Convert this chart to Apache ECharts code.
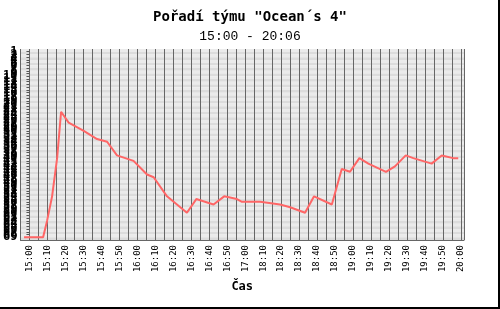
<!DOCTYPE html>
<html>
<head>
<meta charset="utf-8">
<script src="https://cdn.jsdelivr.net/npm/echarts@6/dist/echarts.min.js"></script>
<style>html,body{margin:0;padding:0;background:#fff}#c{width:500px;height:309px}</style>
</head>
<body>
<div id="c"></div>
<script>
// Minutes after 15:00 along the chart's time axis (the 17:05-18:05 hour is not shown on the axis)
const minutes = [-3, 7.6, 9.8, 12.6, 15.4, 17.6, 21.8, 30.2, 37.6, 43.2, 48.7, 57.9, 65.4, 69.1, 76.5, 87.6, 92.8, 102.4, 108.3, 115.4, 118.2, 128.3, 139.4, 145, 153.3, 158.3, 168.2, 173.7, 178.3, 183.5, 188.5, 198.3, 203.3, 209.3, 213.5, 223.7, 229.3, 235.7, 238.5];
// Team rank at each point
const rank = [69, 69, 63, 54, 40, 23, 27, 30, 33, 34, 39, 41, 46, 47, 54, 60, 55, 57, 54, 55, 56, 56, 57, 58, 60, 54, 57, 44, 45, 40, 42, 45, 43, 39, 40, 42, 39, 40, 40];
const titleText = 'Pořadí týmu "Ocean´s 4"';
const subtitleText = '15:00 - 20:06';
const xName = 'Čas';

function timeLabel(v) {
  if (v < 0 || Math.abs(v % 10) > 1e-6) return '';
  let m = v <= 120 ? v : v + 60;
  m += 15 * 60;
  const h = Math.floor(m / 60), mm = Math.round(m % 60);
  return h + ':' + (mm < 10 ? '0' : '') + mm;
}

const chart = echarts.init(document.getElementById('c'), null, {renderer: 'canvas'});
chart.setOption({
  animation: false,
  backgroundColor: '#fff',
  title: [
    {text: titleText, left: 'center', top: 5,
     textStyle: {fontFamily: 'DejaVu Sans Mono', fontSize: 14, fontWeight: 'bold', color: '#000'}},
    {text: subtitleText, left: 'center', top: 25,
     textStyle: {fontFamily: 'Liberation Mono', fontSize: 13, fontWeight: 'normal', color: '#000'}}
  ],
  grid: {left: 20, right: 36, top: 49, bottom: 69, show: false},
  xAxis: {
    type: 'value', min: -5, max: 241.7, interval: 5,
    name: xName, nameLocation: 'middle', nameGap: 41,
    nameTextStyle: {fontFamily: 'DejaVu Sans Mono', fontSize: 12, fontWeight: 'bold', color: '#000'},
    axisLine: {show: true, onZero: false, lineStyle: {color: '#666', width: 1}},
    axisTick: {show: false},
    splitLine: {show: true, lineStyle: {color: '#666', width: 1}},
    axisLabel: {rotate: 90, margin: 5, formatter: timeLabel, showMaxLabel: false, showMinLabel: false,
      hideOverlap: false, fontFamily: 'DejaVu Sans Mono', fontSize: 9, color: '#000'}
  },
  yAxis: {
    type: 'value', min: 0, max: 70, interval: 1, inverse: true,
    axisLine: {show: false},
    axisTick: {show: true, length: 3, lineStyle: {color: '#555'}},
    splitLine: {show: false},
    splitArea: {show: true, areaStyle: {color: ['#ebebeb', '#dcdcdc']}},
    axisLabel: {margin: 3, hideOverlap: false, fontFamily: 'DejaVu Sans Mono', fontSize: 12, fontWeight: 'bold', color: '#000'}
  },
  series: [{
    type: 'line',
    data: minutes.map((m, i) => [m, rank[i]]),
    symbol: 'none',
    lineStyle: {color: '#ff6666', width: 2},
    itemStyle: {color: '#ff6666'}
  }],
  graphic: [
    {type: 'line', shape: {x1: 464.5, y1: 49, x2: 464.5, y2: 240}, style: {stroke: '#666', lineWidth: 1}, z: 10},
    {type: 'rect', shape: {x: 498, y: 0, width: 2, height: 309}, style: {fill: '#000'}},
    {type: 'rect', shape: {x: 0, y: 307, width: 500, height: 2}, style: {fill: '#000'}}
  ]
});
</script>
</body>
</html>
